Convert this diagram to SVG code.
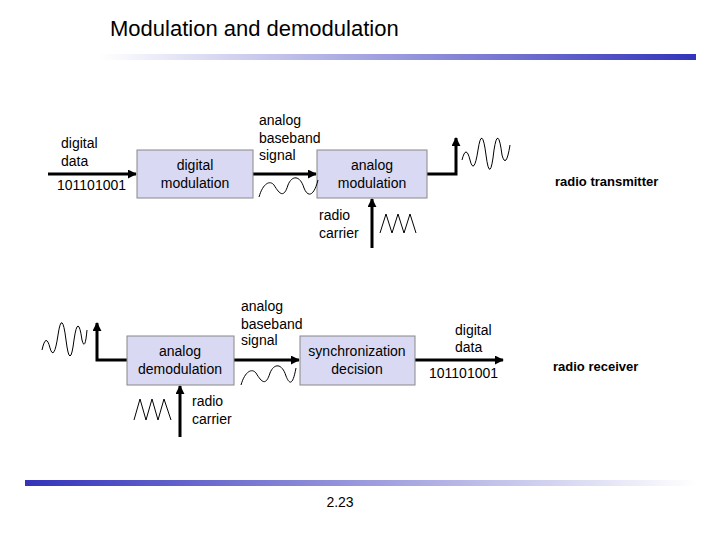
<svg xmlns="http://www.w3.org/2000/svg" width="720" height="540" viewBox="0 0 720 540">
<defs>
<linearGradient id="g1" x1="0" x2="1"><stop offset="0" stop-color="#fff"/><stop offset="1" stop-color="#3333bb"/></linearGradient>
<linearGradient id="g2" x1="0" x2="1"><stop offset="0" stop-color="#3333bb"/><stop offset="1" stop-color="#fff"/></linearGradient>
<marker id="a" viewBox="0 0 10 10" refX="9" refY="5" markerWidth="3" markerHeight="3" orient="auto"><path d="M0,0L10,5L0,10z" fill="#000"/></marker>
</defs>
<style>
text{font-family:"Liberation Sans",Arial,sans-serif;font-size:14px;fill:#000}
.c{text-anchor:middle}
.b{fill:#d9d9f3;stroke:#888;stroke-width:1}
.l{fill:none;stroke:#000;stroke-width:3}
.w{fill:none;stroke:#000;stroke-width:1}
</style>
<rect width="720" height="540" fill="#fff"/>
<text x="110" y="36" style="font-size:22px">Modulation and demodulation</text>
<rect x="100" y="54" width="596" height="6" fill="url(#g1)"/>
<rect x="25" y="480" width="671" height="6" fill="url(#g2)"/>
<g id="connectors">
<line class="l" x1="48" y1="174" x2="136" y2="174" marker-end="url(#a)"/>
<line class="l" x1="253" y1="174" x2="316" y2="174" marker-end="url(#a)"/>
<polyline class="l" points="427,174 456,174 456,138" marker-end="url(#a)"/>
<line class="l" x1="372" y1="248" x2="372" y2="199" marker-end="url(#a)"/>
<polyline class="l" points="127,360 97,360 97,323" marker-end="url(#a)"/>
<line class="l" x1="234" y1="360" x2="299" y2="360" marker-end="url(#a)"/>
<line class="l" x1="415" y1="360" x2="503" y2="360" marker-end="url(#a)"/>
<line class="l" x1="180" y1="437" x2="180" y2="386" marker-end="url(#a)"/>
</g>
<g id="dmod"><rect class="b" x="137" y="150" width="116" height="48"/><text class="c" x="195" y="170">digital</text><text class="c" x="195" y="188">modulation</text></g>
<g id="amod"><rect class="b" x="317" y="150" width="110" height="48"/><text class="c" x="372" y="170">analog</text><text class="c" x="372" y="188">modulation</text></g>
<g id="ademod"><rect class="b" x="127" y="336" width="107" height="49"/><text class="c" x="180" y="356">analog</text><text class="c" x="180" y="374">demodulation</text></g>
<g id="sync"><rect class="b" x="300" y="336" width="115" height="49"/><text class="c" x="357" y="356">synchronization</text><text class="c" x="357" y="374">decision</text></g>
<g id="labels">
<text x="61" y="148">digital</text><text x="61" y="166">data</text><text x="57" y="190">101101001</text>
<text x="259" y="125">analog</text><text x="259" y="143">baseband</text><text x="259" y="160">signal</text>
<text x="319" y="220">radio</text><text x="319" y="238">carrier</text>
<text x="555" y="186" style="font-weight:bold;font-size:13px">radio transmitter</text>
<text x="241" y="311">analog</text><text x="241" y="329">baseband</text><text x="241" y="345">signal</text>
<text x="192" y="406">radio</text><text x="192" y="424">carrier</text>
<text x="455" y="335">digital</text><text x="455" y="352">data</text><text x="429" y="378">101101001</text>
<text x="553" y="371" style="font-weight:bold;font-size:13px">radio receiver</text>
<text class="c" x="340" y="507">2.23</text>
</g>
<g id="waves">
<path class="w" d="M259,197 C263,183 270,180 274,185 C280,195 284,198 288,185 C292,175 300,175 304,188 C308,198 314,196 318,180"/>
<path class="w" d="M380,233 L386,214 L392,233 L398,214 L404,233 L410,214 L416,233"/>
<path class="w" d="M241,385 C245,371 252,368 256,373 C262,383 266,386 270,373 C274,363 282,363 286,376 C290,386 293,384 296,368"/>
<path class="w" d="M134,420 L140,399 L146,420 L152,399 L158,420 L164,399 L171,420"/>
<path class="w" d="M462,160 Q466,144 470,160 Q474,176 478,150 Q482,124 486,155 Q490,186 494,150 Q498,124 502,155 Q506,170 510,145"/>
<path class="w" d="M42,350 Q46,332 50,348 Q54,362 58,335 Q62,308 66,340 Q70,372 74,340 Q78,312 82,340 Q85,352 87,330"/>
</g>
</svg>
